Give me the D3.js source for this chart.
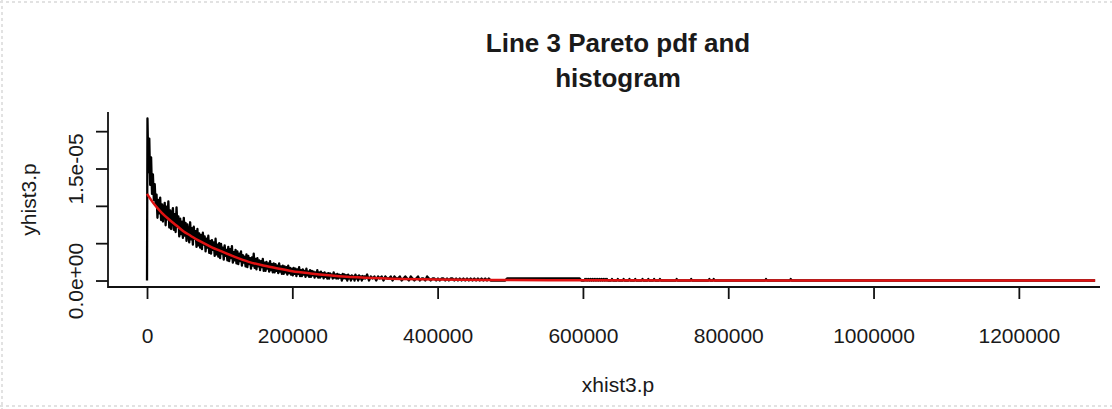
<!DOCTYPE html>
<html>
<head>
<meta charset="utf-8">
<script src="https://cdn.jsdelivr.net/npm/d3@7"></script>
<style>
  html, body { margin: 0; padding: 0; background: #ffffff; }
  svg { display: block; }
  text { font-family: "Liberation Sans", Arial, Helvetica, sans-serif; fill: #1a1a1a; }
</style>
</head>
<body>
<svg id="chart" width="1112" height="409"></svg>
<script>
// Densities are given in units of 1e-6.
const densityUnit = 1e-6;

// Histogram densities (yhist3.p), head: bins of width 1250 from 0 to 300000.
const headFirstMid = 625;
const headBinWidth = 1250;
const headDensity = [
  21.7, 14.5, 19.0, 12.8, 16.5, 11.6, 14.2, 10.8, 12.9, 10.1,
  11.5, 8.4, 10.8, 9.0, 11.1, 8.1, 10.2, 7.9, 9.6, 10.4,
  7.4, 9.9, 8.2, 10.6, 7.1, 9.4, 6.9, 8.8, 9.7, 6.8,
  8.9, 6.5, 9.8, 7.2, 8.6, 5.9, 8.3, 6.2, 7.9, 5.7,
  8.4, 6.0, 7.7, 5.3, 7.5, 6.4, 5.1, 7.8, 5.5, 7.0,
  4.8, 7.2, 5.6, 6.6, 4.5, 6.9, 4.7, 6.3, 4.4, 6.1,
  4.2, 6.4, 4.8, 5.9, 3.9, 5.6, 4.4, 6.0, 3.7, 5.3,
  3.6, 5.4, 4.1, 5.1, 3.3, 5.6, 3.5, 4.8, 3.2, 5.0,
  3.0, 4.9, 3.6, 4.4, 2.8, 4.7, 3.3, 4.1, 2.7, 4.5,
  2.6, 4.2, 3.0, 4.6, 2.4, 3.8, 2.7, 4.1, 2.3, 3.9,
  2.2, 3.6, 2.6, 3.9, 2.0, 3.4, 2.4, 3.2, 1.9, 3.5,
  1.8, 3.3, 2.2, 3.0, 1.6, 3.1, 2.0, 3.6, 1.7, 2.9,
  1.5, 3.0, 1.9, 2.7, 1.4, 2.6, 1.8, 2.9, 1.3, 2.4,
  1.3, 2.5, 1.6, 2.3, 1.2, 2.6, 1.4, 2.2, 1.1, 2.3,
  1.1, 2.2, 1.3, 2.0, 1.0, 2.3, 1.2, 1.9, 0.9, 2.0,
  0.9, 1.9, 1.1, 1.8, 0.8, 2.0, 1.0, 1.7, 0.8, 1.6,
  0.7, 1.7, 0.9, 1.6, 0.6, 1.5, 0.9, 1.8, 0.6, 1.4,
  0.6, 1.5, 0.8, 1.3, 0.5, 1.6, 0.7, 1.2, 0.5, 1.4,
  0.5, 1.3, 0.7, 1.2, 0.4, 1.1, 0.6, 1.4, 0.4, 1.1,
  0.4, 1.2, 0.55, 1.0, 0.3, 1.1, 0.5, 0.9, 0.27, 1.0,
  0.27, 0.95, 0.55, 0.8, 0.27, 1.1, 0.4, 0.8, 0.27, 0.9,
  0.27, 0.8, 0.4, 0.7, 0.0, 0.9, 0.3, 0.8, 0.27, 0.7,
  0.0, 0.8, 0.27, 0.6, 0.0, 0.7, 0.27, 0.55, 0.0, 0.8,
  0.27, 0.55, 0.0, 0.7, 0.27, 0.55, 0.0, 0.6, 0.27, 0.55
];

// Middle: bins of width 2500 from 300000 to 600000.
const midFirstMid = 300500;
const midBinWidth = 2500;
const midDensity = [
  0.27, 0.8, 0.0, 0.55, 0.27, 0.55, 0.0, 0.55, 0.27, 0.55,
  0.0, 0.55, 0.27, 0.27, 0.55, 0.0, 0.55, 0.27, 0.27, 0.55,
  0.0, 0.27, 0.55, 0.27, 0.0, 0.55, 0.27, 0.0, 0.27, 0.55,
  0.0, 0.27, 0.27, 0.0, 0.55, 0.27, 0.0, 0.27, 0.27, 0.0,
  0.27, 0.0, 0.27, 0.27, 0.0, 0.27, 0.0, 0.27, 0.27, 0.0,
  0.27, 0.0, 0.27, 0.0, 0.27, 0.0, 0.27, 0.0, 0.27, 0.0,
  0.27, 0.0, 0.27, 0.0, 0.27, 0.0, 0.27, 0.0, 0.27, 0.0,
  0.0, 0.0, 0.0, 0.0, 0.0, 0.0, 0.0, 0.0, 0.27, 0.27,
  0.27, 0.27, 0.27, 0.27, 0.27, 0.27, 0.27, 0.27, 0.27, 0.27,
  0.27, 0.27, 0.27, 0.27, 0.27, 0.27, 0.27, 0.27, 0.27, 0.27,
  0.27, 0.27, 0.27, 0.27, 0.27, 0.27, 0.27, 0.27, 0.27, 0.27,
  0.27, 0.27, 0.27, 0.27, 0.27, 0.27, 0.27, 0.27, 0.27, 0.0
];

// Sparse tail: bins holding a single observation, all others empty.
const tailSingleBins = [
  603000, 605500, 608000, 610500, 613000, 615500, 618000, 620500, 623000,
  625500, 628000, 630500, 633000, 640000, 648000, 656000, 664000, 672000,
  682000, 690000, 698000, 706000, 729000, 749000, 774000, 780000, 852000, 886000
];
const tailBinWidth = 2500;
const tailSingleDensity = 0.2;
const histLastX = 1305000;

// Fitted Pareto pdf (red curve).
const pdfX = [0, 10000, 20000, 30000, 40000, 50000, 60000, 70000, 80000, 90000,
  100000, 120000, 140000, 160000, 180000, 200000, 225000, 250000, 275000, 300000,
  350000, 400000, 500000, 600000, 800000, 1000000, 1305000];
const pdfY = [11.6, 10.2, 9.1, 8.2, 7.4, 6.6, 6.0, 5.4, 4.9, 4.4,
  4.0, 3.2, 2.5, 2.0, 1.6, 1.25, 0.95, 0.7, 0.5, 0.38,
  0.22, 0.13, 0.06, 0.03, 0.01, 0.005, 0.002];

// Axis ticks and labels.
const xTicks = [0, 200000, 400000, 600000, 800000, 1000000, 1200000];
const xTickLabels = ["0", "200000", "400000", "600000", "800000", "1000000", "1200000"];
const yTicks = [0, 5e-6, 1e-5, 1.5e-5, 2e-5];
const yTickLabels = ["0.0e+00", "", "", "1.5e-05", ""];

const titleLines = ["Line 3 Pareto pdf and", "histogram"];
const xLabel = "xhist3.p";
const yLabel = "yhist3.p";

// ---- layout ----
const plot = { left: 108, right: 1100, top: 112, bottom: 287 };
const svg = d3.select("#chart");

const x = d3.scaleLinear().domain([-53700, 1311700]).range([plot.left, plot.right]);
const y = d3.scaleLinear().domain([-0.868e-6, 2.2568e-5]).range([plot.bottom, plot.top]);

// faint frame around the figure
const frame = svg.append("g").attr("stroke", "#e2e2e2").attr("stroke-width", 2)
  .attr("stroke-dasharray", "3,3").attr("fill", "none");
frame.append("line").attr("x1", 0).attr("x2", 1112).attr("y1", 2).attr("y2", 2);
frame.append("line").attr("x1", 2).attr("x2", 2).attr("y1", 0).attr("y2", 409);
frame.append("line").attr("x1", 0).attr("x2", 1112).attr("y1", 406).attr("y2", 406);

// histogram line points
const histPoints = [[0, 0]];
headDensity.forEach((d, i) => histPoints.push([headFirstMid + i * headBinWidth, d]));
midDensity.forEach((d, i) => histPoints.push([midFirstMid + i * midBinWidth, d]));
tailSingleBins.forEach(b => {
  histPoints.push([b - tailBinWidth / 2, 0]);
  histPoints.push([b, tailSingleDensity]);
  histPoints.push([b + tailBinWidth / 2, 0]);
});
histPoints.push([histLastX, 0]);

const line = d3.line()
  .x(d => x(d[0]))
  .y(d => y(d[1] * densityUnit));

svg.append("path")
  .datum(histPoints)
  .attr("d", line)
  .attr("fill", "none")
  .attr("stroke", "#000")
  .attr("stroke-width", 2.3)
  .attr("stroke-linejoin", "round");

svg.append("path")
  .datum(pdfX.map((v, i) => [v, pdfY[i]]))
  .attr("d", line.curve(d3.curveMonotoneX))
  .attr("fill", "none")
  .attr("stroke", "#e01212")
  .attr("stroke-width", 2.5);

// L-shaped box
svg.append("path")
  .attr("d", `M${plot.left},${plot.top}V${plot.bottom}H${plot.right}`)
  .attr("fill", "none").attr("stroke", "#111").attr("stroke-width", 1.8);

// x axis
const xAxis = svg.append("g")
  .attr("transform", `translate(0,${plot.bottom})`)
  .call(d3.axisBottom(x).tickValues(xTicks)
    .tickFormat((d, i) => xTickLabels[i]).tickSize(12).tickSizeOuter(0));
xAxis.select(".domain").remove();
xAxis.selectAll(".tick line").attr("stroke", "#111").attr("stroke-width", 1.8);
xAxis.selectAll(".tick text")
  .attr("y", 56).attr("dy", 0)
  .style("font-size", "21px").attr("fill", "#1a1a1a");

// y axis
const yAxis = svg.append("g")
  .attr("transform", `translate(${plot.left},0)`)
  .call(d3.axisLeft(y).tickValues(yTicks)
    .tickFormat((d, i) => yTickLabels[i]).tickSize(12).tickSizeOuter(0));
yAxis.select(".domain").remove();
yAxis.selectAll(".tick line").attr("stroke", "#111").attr("stroke-width", 1.8);
yAxis.selectAll(".tick text")
  .attr("x", null).attr("dy", null)
  .attr("transform", "translate(-25,0) rotate(-90)")
  .attr("text-anchor", "middle")
  .style("font-size", "21px").attr("fill", "#1a1a1a");

// titles and axis labels
svg.selectAll("text.title")
  .data(titleLines)
  .join("text")
  .attr("class", "title")
  .attr("x", 618)
  .attr("y", (d, i) => 52 + i * 35)
  .attr("text-anchor", "middle")
  .style("font-size", "26px")
  .style("font-weight", "bold")
  .text(d => d);

svg.append("text")
  .attr("x", 618).attr("y", 392)
  .attr("text-anchor", "middle")
  .style("font-size", "21px")
  .text(xLabel);

svg.append("text")
  .attr("transform", `translate(36,${(plot.top + plot.bottom) / 2}) rotate(-90)`)
  .attr("text-anchor", "middle")
  .style("font-size", "21px")
  .text(yLabel);
</script>
</body>
</html>
